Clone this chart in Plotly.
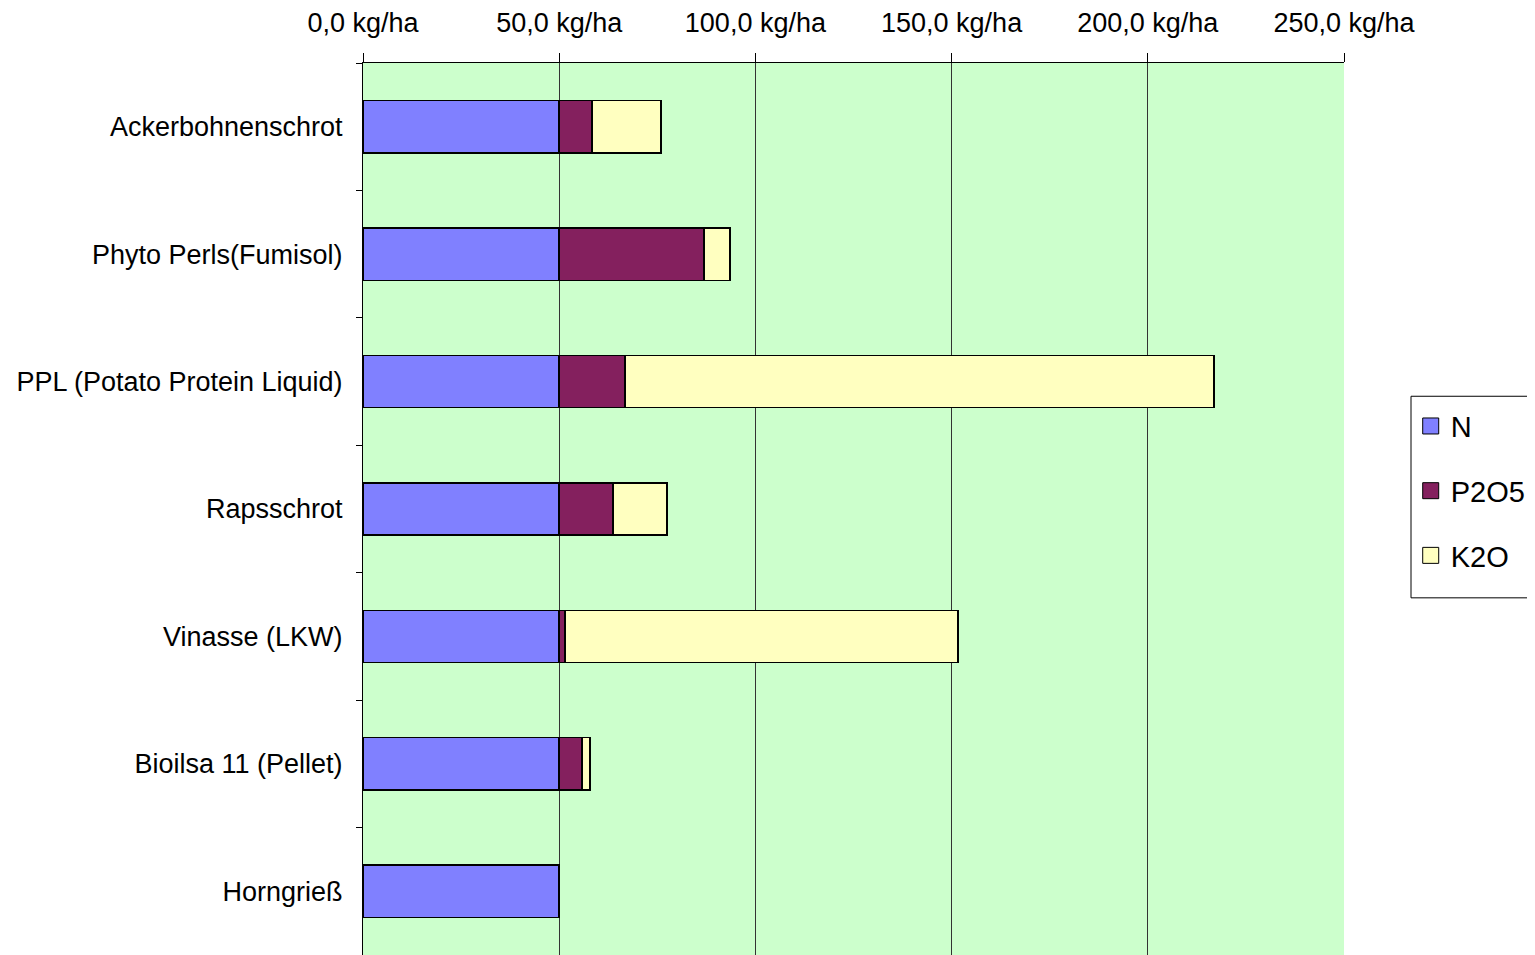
import plotly.graph_objects as go

categories = ["Ackerbohnenschrot", "Phyto Perls(Fumisol)", "PPL (Potato Protein Liquid)",
              "Rapsschrot", "Vinasse (LKW)", "Bioilsa 11 (Pellet)", "Horngrieß"]
n_vals = [50.0, 50.0, 50.0, 50.0, 50.0, 50.0, 50.0]
p2o5_vals = [8.4, 36.9, 16.8, 13.7, 1.5, 5.8, 0.0]
k2o_vals = [17.6, 6.6, 150.1, 13.8, 100.1, 2.0, 0.0]

series = [("N", n_vals, "#8080FF"), ("P2O5", p2o5_vals, "#84205E"), ("K2O", k2o_vals, "#FFFFC0")]

fig = go.Figure()
for i, (name, vals, col) in enumerate(series):
    fig.add_trace(go.Bar(
        y=categories, x=vals, name=name, orientation="h",
        marker=dict(color=col, line=dict(color="black", width=1.5)),
        legendgroup=f"g{i}", showlegend=False,
    ))
for i, (name, vals, col) in enumerate(series):
    fig.add_trace(go.Scatter(
        x=[None], y=[None], mode="markers", name=name,
        marker=dict(symbol="square", size=20, color=col, line=dict(color="black", width=1)),
        legendgroup=f"g{i}", showlegend=True,
    ))

# legend frame
fig.add_shape(type="rect", xref="paper", yref="paper",
              x0=1.0683, x1=1.21, y0=0.4004, y1=0.6264,
              line=dict(color="black", width=1), fillcolor="white", layer="above")

fig.update_layout(
    width=1527, height=947,
    margin=dict(l=355, r=191, t=53, b=0),
    barmode="stack", bargap=0.59,
    plot_bgcolor="#CCFFCC", paper_bgcolor="white",
    font=dict(family="Liberation Sans, Arial, sans-serif", size=27, color="black"),
    separators=", ",
    showlegend=True,
    legend=dict(
        x=1.068, y=0.6215, xanchor="left", yanchor="top",
        borderwidth=0, bgcolor="rgba(0,0,0,0)",
        traceorder="grouped", tracegroupgap=24,
        font=dict(size=29), itemwidth=30,
    ),
    xaxis=dict(
        side="top", range=[0, 250], dtick=50, tickformat=".1f", ticksuffix=" kg/ha",
        showgrid=True, gridcolor="#333333", gridwidth=1,
        showline=True, linecolor="black", linewidth=1,
        ticks="outside", ticklen=9, tickcolor="black", zeroline=False,
        ticklabelstandoff=10,
    ),
    yaxis=dict(
        autorange="reversed", showgrid=False,
        showline=True, linecolor="black", linewidth=1,
        ticks="outside", tickson="boundaries", ticklen=6, tickcolor="black",
        ticklabelstandoff=14,
    ),
)

fig.write_html("out.html")
